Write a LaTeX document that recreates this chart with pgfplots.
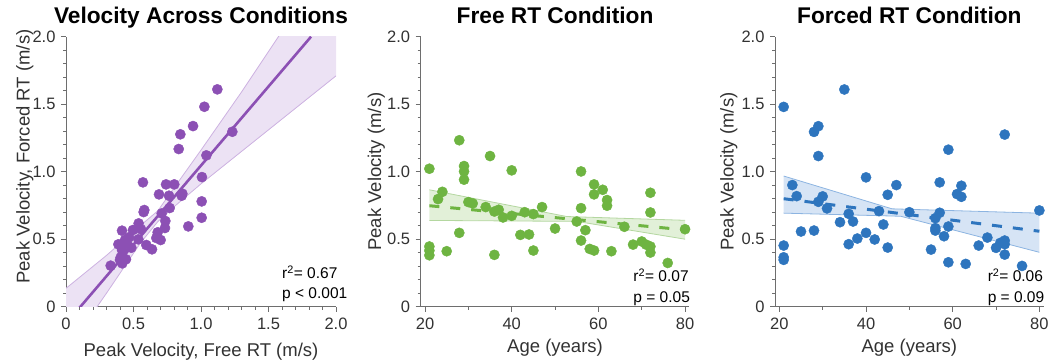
\documentclass[border=0pt]{standalone}
\usepackage{fontspec}
\setmainfont{Liberation Sans}
\usepackage{pgfplots}
\pgfplotsset{compat=1.18}
\definecolor{pdot}{RGB}{140,80,180}
\definecolor{pband}{RGB}{236,226,244}
\definecolor{pedge}{RGB}{205,178,225}
\definecolor{gdot}{RGB}{110,180,65}
\definecolor{gband}{RGB}{226,240,216}
\definecolor{gedge}{RGB}{180,215,160}
\definecolor{bdot}{RGB}{46,117,190}
\definecolor{bband}{RGB}{214,228,245}
\definecolor{bedge}{RGB}{140,180,225}
\definecolor{axisgray}{RGB}{110,110,110}
\definecolor{labgray}{RGB}{50,50,50}
\tikzset{ann/.style={anchor=base west, font=\fontsize{15.5}{17}\selectfont, text=black, inner sep=0pt}}
\pgfplotsset{
  panel/.style={
    scale only axis, height=270pt,
    axis lines=left, axis line style={-, draw=axisgray, line width=0.8pt},
    tick align=outside, major tick length=5pt, minor tick length=3pt,
    tick style={draw=axisgray, line width=0.8pt},
    ymin=0, ymax=2, ytick={0,0.5,1,1.5,2}, yticklabels={0,0.5,1.0,1.5,2.0}, minor y tick num=4,
    /pgf/number format/assume math mode=true,
    tick label style={font=\fontsize{16.5}{18}\selectfont, text=labgray},
    yticklabel style={xshift=-2pt},
    xticklabel style={yshift=-3pt},
    label style={font=\fontsize{18.5}{20}\selectfont, text=labgray},
    title style={font=\fontsize{22.7}{24}\selectfont\bfseries, at={(axis description cs:0.5,1)}, anchor=base, yshift=7.2pt},
    clip mode=individual,
  },
  dots/.style={only marks, color=#1, mark=*, mark size=5.1pt, mark options={solid, draw=#1, fill=#1, line width=0.4pt}},
}
\begin{document}
\begin{tikzpicture}
\useasboundingbox (0,0) rectangle (1048pt,362pt);
% ---------------- Panel 1
\begin{axis}[panel, width=270pt, at={(66pt,55.3pt)}, anchor=south west,
  xmin=0, xmax=2, xtick={0,0.5,1,1.5,2}, xticklabels={0,0.5,1.0,1.5,2.0}, minor x tick num=4,
  title={Velocity Across Conditions},
  xlabel={Peak Velocity, Free RT (m/s)},
  ylabel={Peak Velocity, Forced RT (m/s)},
  xlabel style={at={(axis description cs:0.5,-0.165)}, anchor=center},
  ylabel style={at={(axis description cs:-0.152,0.556)}, anchor=center},
]
\addplot[fill=pband, draw=none] coordinates {
 (-0.05,0.10) (0,0.136) (0.3,0.38) (0.55,0.60) (0.68,0.71) (0.8,0.88) (1.0,1.16) (1.3,1.59) (1.6,2.04) (2.1,2.3)
 (2.1,1.79) (2.0,1.71) (1.4,1.23) (1.0,0.91) (0.8,0.74) (0.68,0.63) (0.55,0.47) (0.3,0.10) (0,-0.33) (-0.05,-0.4)} -- cycle;
\addplot[draw=pedge, line width=0.8pt] coordinates {
 (0,0.136) (0.3,0.38) (0.55,0.60) (0.68,0.71) (0.8,0.88) (1.0,1.16) (1.3,1.59) (1.6,2.04)};
\addplot[draw=pedge, line width=0.8pt] coordinates {
 (0,-0.33) (0.3,0.10) (0.55,0.47) (0.68,0.63) (0.8,0.74) (1.0,0.91) (1.4,1.23) (2.0,1.71)};
\addplot[draw=pdot, line width=2.6pt] coordinates {(0,-0.125) (1.815,2.0)};
\addplot[dots=pdot] coordinates {
 (1.121,1.610) (1.025,1.481) (0.941,1.338) (0.847,1.277) (0.835,1.168) (1.232,1.296)
 (1.040,1.121) (1.007,0.960) (1.005,0.780) (1.005,0.659) (0.906,0.595) (0.570,0.921)
 (0.741,0.906) (0.802,0.906) (0.689,0.832) (0.763,0.822) (0.862,0.837) (0.857,0.822)
 (0.768,0.731) (0.580,0.716) (0.575,0.701) (0.709,0.691) (0.736,0.635) (0.733,0.583)
 (0.538,0.617) (0.556,0.573) (0.496,0.568) (0.415,0.563) (0.679,0.551) (0.669,0.509)
 (0.701,0.494) (0.536,0.499) (0.467,0.514) (0.437,0.494) (0.388,0.462) (0.484,0.437)
 (0.595,0.457) (0.637,0.425) (0.415,0.420) (0.405,0.365) (0.444,0.351) (0.417,0.321)
 (0.331,0.304) (0.400,0.346) (0.449,0.474)};
\node[ann] at (axis description cs:0.8,0.105) {r\textsuperscript{2}= 0.67};
\node[ann] at (axis description cs:0.8,0.031) {p < 0.001};
\end{axis}
% ---------------- Panel 2
\begin{axis}[panel, width=268.7pt, at={(420.7pt,55.3pt)}, anchor=south west,
  xmin=19, xmax=81, xtick={20,40,60,80}, minor x tick num=1,
  title={Free RT Condition},
  xlabel={Age (years)},
  ylabel={Peak Velocity (m/s)},
  xlabel style={at={(axis description cs:0.5,-0.152)}, anchor=center},
  ylabel style={at={(axis description cs:-0.165,0.5)}, anchor=center},
]
\addplot[fill=gband, draw=none] coordinates {
 (21,0.866) (52.7,0.668) (80,0.640) (80,0.500) (55,0.632) (21,0.639)} -- cycle;
\addplot[draw=gedge, line width=0.8pt] coordinates {(21,0.866) (52.7,0.668) (80,0.640)};
\addplot[draw=gedge, line width=0.8pt] coordinates {(21,0.639) (55,0.632) (80,0.500)};
\addplot[dots=gdot] coordinates {
 (21,1.022) (21,0.446) (21,0.416) (21,0.381) (23,0.797) (24,0.851) (25,0.411)
 (27.9,1.233) (27.9,0.547) (29,1.042) (29,1.002) (29,0.941) (30,0.775) (31,0.765)
 (34,0.738) (35,1.116) (36,0.705) (37,0.718) (38,0.661) (36,0.384) (40,1.010) (40,0.673)
 (42,0.532) (43,0.700) (44,0.535) (45,0.686) (45,0.416) (47,0.738) (50,0.579) (55,0.631)
 (56,1.002) (56,0.730) (56,0.490) (57,0.567) (58,0.428) (59,0.906) (59,0.832) (59,0.416)
 (61,0.866) (62,0.790) (62,0.748) (63,0.411) (66,0.592) (68,0.460) (70,0.483) (71,0.460)
 (72,0.446) (72,0.401) (72,0.844) (72,0.698) (76,0.324) (80,0.574)};
\addplot[draw=gdot, line width=3pt, dash pattern=on 10pt off 11pt] coordinates {(21,0.748) (80,0.569)};
\node[ann] at (axis description cs:0.791,0.0926) {r\textsuperscript{2}= 0.07};
\node[ann] at (axis description cs:0.791,0.0174) {p = 0.05};
\end{axis}
% ---------------- Panel 3
\begin{axis}[panel, width=268.7pt, at={(775pt,55.3pt)}, anchor=south west,
  xmin=19, xmax=81, xtick={20,40,60,80}, minor x tick num=1,
  title={Forced RT Condition},
  xlabel={Age (years)},
  ylabel={Peak Velocity (m/s)},
  xlabel style={at={(axis description cs:0.5,-0.152)}, anchor=center},
  ylabel style={at={(axis description cs:-0.172,0.5)}, anchor=center},
]
\addplot[fill=bband, draw=none] coordinates {
 (21,0.968) (46,0.725) (80,0.693) (80,0.403) (48,0.670) (21,0.693)} -- cycle;
\addplot[draw=bedge, line width=0.8pt] coordinates {(21,0.968) (46,0.725) (80,0.693)};
\addplot[draw=bedge, line width=0.8pt] coordinates {(21,0.693) (48,0.670) (80,0.403)};
\addplot[dots=bdot] coordinates {
 (21,1.480) (21,0.453) (21,0.366) (21,0.347) (23,0.901) (24,0.819) (25,0.557)
 (28,1.295) (28,0.564) (29,1.337) (29,1.116) (29,0.777) (30,0.817) (31,0.728)
 (34,0.626) (35,1.609) (36,0.688) (36,0.463) (37,0.631) (38,0.505) (40,0.958) (40,0.547)
 (42,0.498) (43,0.708) (44,0.609) (45,0.829) (45,0.438) (47,0.901) (50,0.700) (55,0.423)
 (56,0.656) (56,0.582) (56,0.564) (57,0.921) (57,0.696) (58,0.522) (59,1.163) (59,0.594)
 (59,0.329) (61,0.834) (62,0.896) (62,0.814) (63,0.317) (66,0.453) (68,0.512) (70,0.436)
 (71,0.473) (72,1.275) (72,0.490) (72,0.463) (72,0.386) (76,0.302) (80,0.713)};
\addplot[draw=bdot, line width=3pt, dash pattern=on 10pt off 11pt] coordinates {(21,0.800) (80,0.559)};
\node[ann] at (axis description cs:0.791,0.0926) {r\textsuperscript{2}= 0.06};
\node[ann] at (axis description cs:0.791,0.0174) {p = 0.09};
\end{axis}
\end{tikzpicture}
\end{document}
